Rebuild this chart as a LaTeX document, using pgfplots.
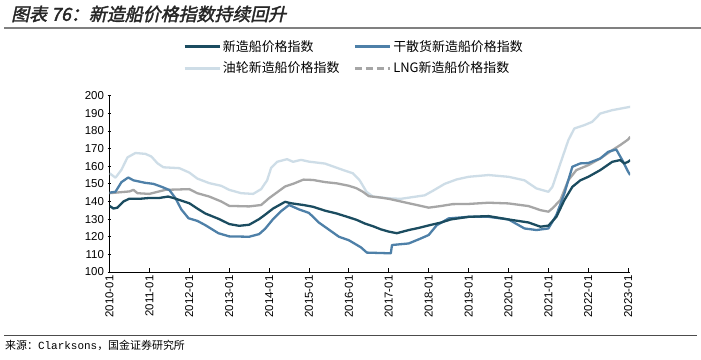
\documentclass[border=0pt]{standalone}
\usepackage{pgfplots}
\usepackage{pgfplotstable}
\pgfplotsset{compat=1.18}
\usepackage{fontspec}
\setmainfont{Liberation Sans}
\newfontfamily\cjk{Noto Sans CJK SC}
\newfontfamily\monofont{Liberation Mono}
\newfontfamily\cjktitle[FakeSlant=0.22,FakeBold=2]{Noto Sans CJK SC}
\definecolor{cmain}{RGB}{27,76,96}
\definecolor{cdry}{RGB}{78,128,168}
\definecolor{coil}{RGB}{206,221,231}
\definecolor{clng}{RGB}{166,166,166}

\pgfplotstableread{
x y
2010.00 137.5
2010.10 136
2010.20 136.5
2010.35 140
2010.50 141.6
2010.75 141.5
2011.00 142
2011.25 142
2011.47 142.8
2011.60 142
2011.80 140.5
2012.00 139.0
2012.20 136
2012.40 133.2
2012.75 130
2013.00 127.2
2013.25 126.2
2013.50 126.8
2013.75 130
2013.90 132.5
2014.10 136
2014.40 139.8
2014.55 139
2014.86 138
2015.10 137
2015.40 134.8
2015.69 133.2
2016.00 131
2016.20 129.5
2016.40 127.5
2016.60 126
2016.80 124.2
2017.00 122.9
2017.20 122
2017.50 123.8
2017.75 125
2018.03 126.6
2018.30 128
2018.55 129.8
2019.00 131.3
2019.50 131.7
2020.00 129.8
2020.50 128.1
2020.80 125.7
2021.00 126.3
2021.20 131.3
2021.40 140.8
2021.60 148.3
2021.80 152
2022.00 154
2022.30 157.8
2022.60 162.5
2022.80 163.5
2022.90 161.6
2023.00 162.5
2023.05 163.5
}\tmain

\pgfplotstableread{
x y
2010.00 145
2010.15 145.5
2010.30 151
2010.47 153.6
2010.60 152
2010.89 150.6
2011.10 150
2011.31 148.3
2011.50 146.5
2011.65 142
2011.80 135.5
2011.98 130.5
2012.20 129
2012.40 126.6
2012.73 122
2013.00 120.2
2013.50 120
2013.75 121.5
2013.90 124.5
2014.10 130
2014.30 134.5
2014.50 138
2014.75 135.5
2015.00 133.5
2015.25 128
2015.50 124
2015.75 120
2016.00 118
2016.30 114
2016.45 111
2017.05 110.6
2017.08 115.3
2017.50 116.2
2017.80 119
2018.00 121
2018.20 126.5
2018.50 130.4
2019.00 131.3
2019.50 131.3
2020.00 129.8
2020.40 124.7
2020.70 123.8
2021.00 124.7
2021.20 132.3
2021.40 144.6
2021.60 159.7
2021.80 161.6
2022.00 161.8
2022.30 164.4
2022.50 168.2
2022.70 169.5
2022.85 163.5
2023.00 156.8
2023.05 155
}\tdry

\pgfplotstableread{
x y
2010.00 156
2010.15 153.5
2010.30 158
2010.45 165
2010.65 167.5
2010.90 167
2011.05 165.5
2011.20 161.7
2011.35 159.4
2011.75 158.9
2012.00 156.4
2012.20 153
2012.50 150.4
2012.80 148.9
2013.00 146.6
2013.30 144.7
2013.60 144.3
2013.80 147
2013.95 152
2014.05 159
2014.20 162.5
2014.45 164
2014.60 162.5
2014.80 163.6
2015.00 162.6
2015.40 161.5
2015.86 157.8
2016.10 156
2016.27 152
2016.44 145.5
2016.60 142.8
2017.00 141.8
2017.30 141.5
2017.60 142.5
2017.90 143.5
2018.10 146
2018.40 150
2018.70 152.5
2019.00 154
2019.50 155
2020.00 154
2020.40 152
2020.70 147.4
2021.00 145.5
2021.10 148.3
2021.30 161.6
2021.50 174.8
2021.65 181.4
2021.90 183.3
2022.10 185.2
2022.30 189.9
2022.60 191.8
2023.05 193.7
}\toil

\pgfplotstableread{
x y
2010.00 144.7
2010.50 145.7
2010.60 146.6
2010.70 144.7
2011.00 144.3
2011.40 146.6
2012.00 147
2012.20 144.7
2012.50 142.8
2012.80 140
2013.00 137.5
2013.50 137.2
2013.80 138
2014.00 141.9
2014.40 148.5
2014.60 150
2014.86 152.4
2015.10 152.2
2015.40 151
2015.69 150.3
2016.00 148.9
2016.19 147.5
2016.35 145.5
2016.50 143
2016.80 142.2
2017.00 141.5
2017.50 139
2018.00 136.5
2018.30 137.4
2018.60 138.5
2019.00 138.6
2019.50 139.3
2020.00 138.9
2020.50 137.4
2020.80 135.1
2021.00 134.2
2021.10 136.1
2021.30 140.8
2021.50 152.1
2021.70 157.8
2022.00 160.6
2022.30 164.4
2022.60 169.1
2022.80 172
2023.00 175.2
2023.05 176.7
}\tlng

\begin{document}
\begin{tikzpicture}[x=1bp,y=1bp]
\path[use as bounding box] (0,0) rectangle (701,359);
\fill[white] (0,0) rectangle (701,359);
\begin{axis}[
  at={(109.5bp,87bp)}, anchor=south west,
  scale only axis, width=520.7bp, height=176.3bp,
  xmin=2010, xmax=2023.05, ymin=100, ymax=200,
  axis x line*=bottom, axis y line*=left,
  axis line style={black, line width=0.8bp},
  xtick={2010,...,2023},
  xticklabels={2010-01,2011-01,2012-01,2013-01,2014-01,2015-01,2016-01,2017-01,2018-01,2019-01,2020-01,2021-01,2022-01,2023-01},
  ytick={100,110,...,200},
  xtick align=inside, ytick align=center,
  major tick length=4bp,
  tick style={black, line width=0.8bp},
  x tick label style={rotate=90, anchor=east, font=\fontsize{11.5}{13}\selectfont},
  y tick label style={font=\fontsize{11.5}{13}\selectfont},
  /pgf/number format/assume math mode=true,
  legend columns=2,
  legend style={draw=none, fill=none, inner sep=0pt,
    at={(0.141,1.325)}, anchor=north west,
    font=\cjk\fontsize{13}{15}\selectfont,
    /tikz/every even column/.append style={column sep=12bp},
    row sep=5bp},
  legend cell align=left,
  every axis plot/.append style={line width=2.3bp, line join=round},
]
\addplot[coil, forget plot] table {\toil};
\addplot[clng, forget plot] table {\tlng};
\addplot[cdry, forget plot] table {\tdry};
\addplot[cmain, forget plot] table {\tmain};
\addlegendimage{legend image code/.code={\draw[cmain,line width=2.8bp] (0bp,0bp)--(35bp,0bp);}}
\addlegendentry{新造船价格指数}
\addlegendimage{legend image code/.code={\draw[cdry,line width=2.8bp] (0bp,0bp)--(35bp,0bp);}}
\addlegendentry{干散货新造船价格指数}
\addlegendimage{legend image code/.code={\draw[coil,line width=2.8bp] (0bp,0bp)--(35bp,0bp);}}
\addlegendentry{油轮新造船价格指数}
\addlegendimage{legend image code/.code={\draw[clng,line width=2.8bp,dash pattern=on 7bp off 4bp] (0bp,0bp)--(35bp,0bp);}}
\addlegendentry{LNG新造船价格指数}
\end{axis}
\node[anchor=west, inner sep=0pt, text=black!85] at (11,345) {\cjktitle\fontsize{18}{21}\selectfont 图表 76：新造船价格指数持续回升};
\draw[black!50, line width=1.2bp] (4,331) -- (701,331);
\draw[black!70, line width=0.6bp] (4,24) -- (697,24);
\node[anchor=west, inner sep=0pt] at (5,14) {\cjk\fontsize{11}{13}\selectfont 来源：{\monofont Clarksons}，国金证券研究所};
\end{tikzpicture}
\end{document}
